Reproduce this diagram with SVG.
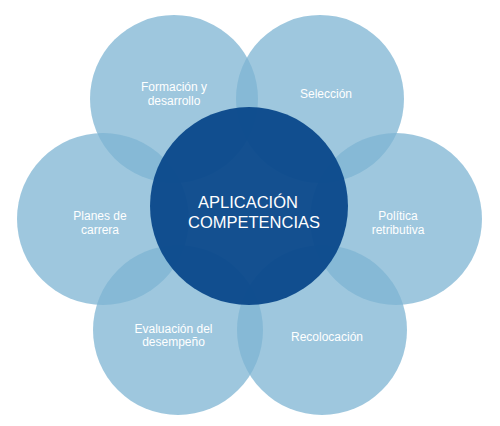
<svg xmlns="http://www.w3.org/2000/svg" width="500" height="426" viewBox="0 0 500 426">
<style>
.outer{fill:#7db4d3;fill-opacity:0.75}
.core{fill:#0c4a8c;fill-opacity:0.97}
.lbl{font-family:"Liberation Sans",Arial,sans-serif;font-size:12px;fill:#ffffff;text-anchor:middle}
.big{font-family:"Liberation Sans",Arial,sans-serif;font-size:16.5px;fill:#ffffff;text-anchor:middle}
</style>
<rect width="500" height="426" fill="#ffffff"/>
<g id="formacion"><circle class="outer" cx="174" cy="99" r="84"/></g>
<g id="seleccion"><circle class="outer" cx="320" cy="99" r="84"/></g>
<g id="planes"><circle class="outer" cx="103" cy="219" r="86"/></g>
<g id="politica"><circle class="outer" cx="396" cy="219" r="86"/></g>
<g id="evaluacion"><circle class="outer" cx="178" cy="330" r="85"/></g>
<g id="recolocacion"><circle class="outer" cx="322" cy="330" r="85"/></g>
<g id="aplicacion"><circle class="core" cx="249" cy="206" r="99"/></g>
<g id="labels">
<text class="lbl" x="174" y="91">Formación y</text>
<text class="lbl" x="174" y="105">desarrollo</text>
<text class="lbl" x="326" y="98">Selección</text>
<text class="lbl" x="100" y="220">Planes de</text>
<text class="lbl" x="100" y="234">carrera</text>
<text class="lbl" x="398" y="220">Política</text>
<text class="lbl" x="398" y="234">retributiva</text>
<text class="lbl" x="173.5" y="333">Evaluación del</text>
<text class="lbl" x="173.5" y="346">desempeño</text>
<text class="lbl" x="327" y="341">Recolocación</text>
<text class="big" x="248" y="208">APLICACIÓN</text>
<text class="big" x="254" y="228">COMPETENCIAS</text>
</g>
<g id="connectors"></g>
</svg>
